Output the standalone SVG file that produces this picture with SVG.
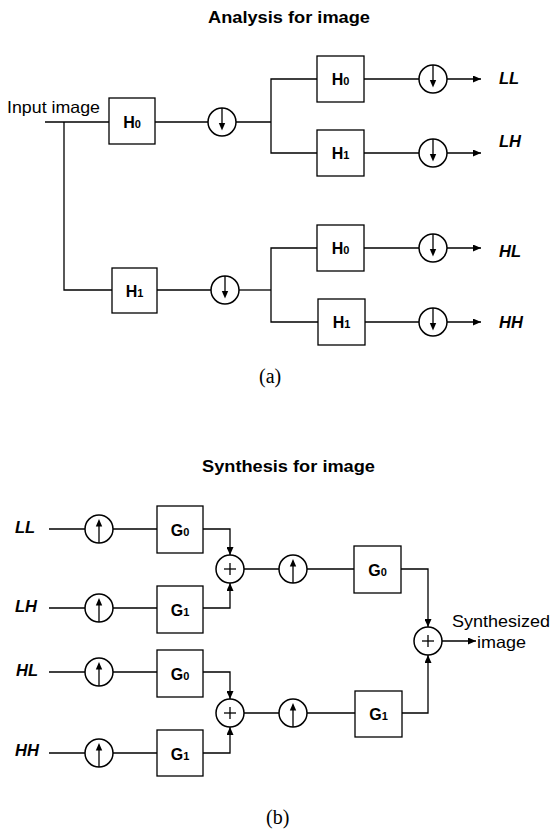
<svg xmlns="http://www.w3.org/2000/svg" xmlns:xlink="http://www.w3.org/1999/xlink" width="552" height="833" viewBox="0 0 552 833">
<style>
.bg{fill:#fff}
.box{fill:#fff;stroke:#000;stroke-width:1.3}
.ln{fill:none;stroke:#000;stroke-width:1.3}
.arr{fill:none;stroke:#000;stroke-width:1.3;marker-end:url(#ah)}
.circ{fill:#fff;stroke:#000;stroke-width:1.5}
.lbl{font-family:"Liberation Sans",Arial,sans-serif;font-weight:bold;font-size:16px;text-anchor:middle;fill:#000}
.sub{font-size:11px}
.title{font-family:"Liberation Sans",Arial,sans-serif;font-weight:bold;font-size:17px;fill:#000}
.band{font-family:"Liberation Sans",Arial,sans-serif;font-weight:bold;font-style:italic;font-size:16.5px;fill:#000}
.plain{font-family:"Liberation Sans",Arial,sans-serif;font-size:16.5px;fill:#000}
.cap{font-family:"Liberation Serif","Times New Roman",serif;font-size:20px;fill:#000}
</style>
<defs>
<marker id="ah" markerUnits="userSpaceOnUse" markerWidth="8" markerHeight="7" refX="8" refY="3.5" orient="auto">
<path d="M0,0 L8,3.5 L0,7 z" fill="#000"/>
</marker>
<g id="down">
<circle cx="0" cy="0" r="14" class="circ"/>
<line x1="0" y1="-14" x2="0" y2="3" class="ln"/>
<path d="M-3.2,1 L3.2,1 L0,8.5 z" fill="#000"/>
</g>
<g id="up">
<circle cx="0" cy="0" r="14" class="circ"/>
<line x1="0" y1="14" x2="0" y2="-4" class="ln"/>
<path d="M-3.2,-2.5 L3.2,-2.5 L0,-10 z" fill="#000"/>
</g>
<g id="plus">
<circle cx="0" cy="0" r="14" class="circ"/>
<line x1="-6" y1="0" x2="6" y2="0" class="ln"/>
<line x1="0" y1="-6" x2="0" y2="6" class="ln"/>
</g>
</defs>
<rect class="bg" x="0" y="0" width="552" height="833"/>

<g id="labels">
<text class="title" x="208" y="23" textLength="162" lengthAdjust="spacingAndGlyphs">Analysis for image</text>
<text class="plain" x="7" y="113" textLength="93" lengthAdjust="spacingAndGlyphs">Input image</text>
<text class="band" x="499" y="84">LL</text>
<text class="band" x="499" y="147">LH</text>
<text class="band" x="499" y="257">HL</text>
<text class="band" x="499" y="328">HH</text>
<text class="cap" x="259" y="383">(a)</text>
<text class="title" x="202" y="472" textLength="173" lengthAdjust="spacingAndGlyphs">Synthesis for image</text>
<text class="band" x="15" y="533">LL</text>
<text class="band" x="15" y="612">LH</text>
<text class="band" x="16" y="676">HL</text>
<text class="band" x="15" y="756">HH</text>
<text class="plain" x="452" y="627" textLength="98" lengthAdjust="spacingAndGlyphs">Synthesized</text>
<text class="plain" x="477" y="648" textLength="49" lengthAdjust="spacingAndGlyphs">image</text>
<text class="cap" x="266" y="824">(b)</text>
</g>

<g id="connectors">
<polyline class="ln" points="45,122 109,122"/>
<polyline class="ln" points="64,122 64,290 112,290"/>
<line class="ln" x1="155" y1="122" x2="208" y2="122"/>
<line class="ln" x1="236" y1="122" x2="271" y2="122"/>
<polyline class="ln" points="317,79 271,79 271,153 317,153"/>
<line class="ln" x1="364" y1="79" x2="419" y2="79"/>
<line class="arr" x1="447" y1="79" x2="481" y2="79"/>
<line class="ln" x1="364" y1="153" x2="419" y2="153"/>
<line class="arr" x1="447" y1="153" x2="481" y2="153"/>
<line class="ln" x1="157" y1="290" x2="211" y2="290"/>
<line class="ln" x1="239" y1="290" x2="271" y2="290"/>
<polyline class="ln" points="317,248 271,248 271,322 318,322"/>
<line class="ln" x1="364" y1="248" x2="419" y2="248"/>
<line class="arr" x1="447" y1="248" x2="481" y2="248"/>
<line class="ln" x1="365" y1="322" x2="419" y2="322"/>
<line class="arr" x1="447" y1="322" x2="481" y2="322"/>
<line class="ln" x1="49" y1="529" x2="85" y2="529"/>
<line class="ln" x1="113" y1="529" x2="157" y2="529"/>
<polyline class="arr" points="203,529 230,529 230,555"/>
<line class="ln" x1="49" y1="608" x2="85" y2="608"/>
<line class="ln" x1="113" y1="608" x2="157" y2="608"/>
<polyline class="arr" points="203,608 230,608 230,583"/>
<line class="ln" x1="244" y1="569" x2="279" y2="569"/>
<line class="ln" x1="307" y1="569" x2="354" y2="569"/>
<polyline class="arr" points="401,569 428,569 428,627"/>
<line class="ln" x1="49" y1="672" x2="85" y2="672"/>
<line class="ln" x1="113" y1="672" x2="157" y2="672"/>
<polyline class="arr" points="203,672 230,672 230,699"/>
<line class="ln" x1="49" y1="753" x2="85" y2="753"/>
<line class="ln" x1="113" y1="753" x2="157" y2="753"/>
<polyline class="arr" points="203,753 230,753 230,727"/>
<line class="ln" x1="244" y1="713" x2="279" y2="713"/>
<line class="ln" x1="307" y1="713" x2="355" y2="713"/>
<polyline class="arr" points="402,713 428,713 428,655"/>
<line class="arr" x1="442" y1="641" x2="476" y2="641"/>
</g>

<g id="H0a"><rect class="box" x="109" y="98" width="46" height="46"/><text class="lbl" x="132" y="128">H<tspan class="sub">0</tspan></text></g>
<g id="D1"><use xlink:href="#down" href="#down" x="222" y="122"/></g>
<g id="H0b"><rect class="box" x="317" y="56" width="47" height="46"/><text class="lbl" x="340.5" y="85">H<tspan class="sub">0</tspan></text></g>
<g id="D2"><use xlink:href="#down" href="#down" x="433" y="79"/></g>
<g id="H1b"><rect class="box" x="317" y="130" width="47" height="46"/><text class="lbl" x="340.5" y="159">H<tspan class="sub">1</tspan></text></g>
<g id="D3"><use xlink:href="#down" href="#down" x="433" y="153"/></g>
<g id="H1a"><rect class="box" x="112" y="268" width="45" height="45"/><text class="lbl" x="134.5" y="297">H<tspan class="sub">1</tspan></text></g>
<g id="D4"><use xlink:href="#down" href="#down" x="225" y="290"/></g>
<g id="H0c"><rect class="box" x="317" y="225" width="47" height="46"/><text class="lbl" x="340.5" y="254">H<tspan class="sub">0</tspan></text></g>
<g id="D5"><use xlink:href="#down" href="#down" x="433" y="248"/></g>
<g id="H1c"><rect class="box" x="318" y="299" width="47" height="46"/><text class="lbl" x="341.5" y="328">H<tspan class="sub">1</tspan></text></g>
<g id="D6"><use xlink:href="#down" href="#down" x="433" y="322"/></g>

<g id="U1"><use xlink:href="#up" href="#up" x="99" y="529"/></g>
<g id="G0a"><rect class="box" x="157" y="506" width="46" height="47"/><text class="lbl" x="180" y="536">G<tspan class="sub">0</tspan></text></g>
<g id="U2"><use xlink:href="#up" href="#up" x="99" y="608"/></g>
<g id="G1a"><rect class="box" x="157" y="586" width="46" height="47"/><text class="lbl" x="180" y="616">G<tspan class="sub">1</tspan></text></g>
<g id="P1"><use xlink:href="#plus" href="#plus" x="230" y="569"/></g>
<g id="U3"><use xlink:href="#up" href="#up" x="293" y="569"/></g>
<g id="G0b"><rect class="box" x="354" y="546" width="47" height="47"/><text class="lbl" x="377.5" y="576">G<tspan class="sub">0</tspan></text></g>
<g id="U4"><use xlink:href="#up" href="#up" x="99" y="672"/></g>
<g id="G0c"><rect class="box" x="157" y="650" width="46" height="47"/><text class="lbl" x="180" y="680">G<tspan class="sub">0</tspan></text></g>
<g id="U5"><use xlink:href="#up" href="#up" x="99" y="753"/></g>
<g id="G1c"><rect class="box" x="157" y="730" width="46" height="46"/><text class="lbl" x="180" y="760">G<tspan class="sub">1</tspan></text></g>
<g id="P2"><use xlink:href="#plus" href="#plus" x="230" y="713"/></g>
<g id="U6"><use xlink:href="#up" href="#up" x="293" y="713"/></g>
<g id="G1d"><rect class="box" x="355" y="691" width="47" height="46"/><text class="lbl" x="378.5" y="720">G<tspan class="sub">1</tspan></text></g>
<g id="P3"><use xlink:href="#plus" href="#plus" x="428" y="641"/></g>
</svg>
